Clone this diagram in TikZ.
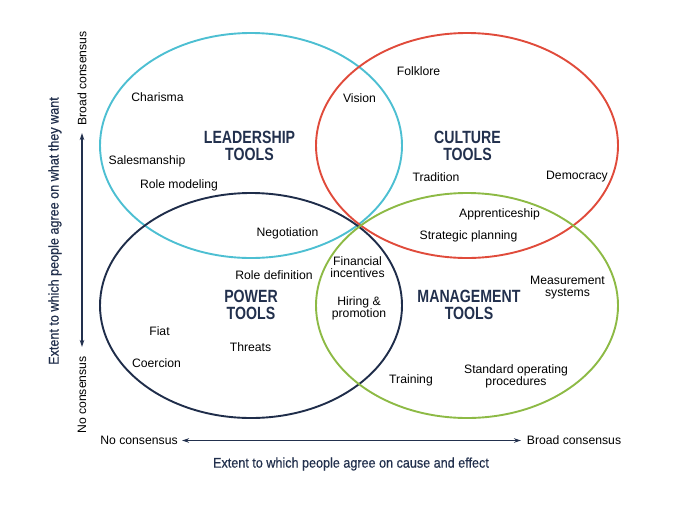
\documentclass[tikz,border=0pt]{standalone}
\usepackage{fontspec}
\setmainfont{Liberation Sans}
\newfontfamily\headfam[FakeStretch=0.8]{Liberation Sans Bold}
\newfontfamily\titlefam[FakeStretch=0.9,FakeBold=0.6]{Liberation Sans}
\usetikzlibrary{shapes.geometric,arrows.meta}
\definecolor{navy}{HTML}{22304D}
\definecolor{cyanring}{HTML}{4DBFD2}
\definecolor{redring}{HTML}{E04B3B}
\definecolor{greenring}{HTML}{8DBA45}
\definecolor{darkring}{HTML}{1F2D4A}
\tikzset{
  ring/.style={ellipse, minimum width=302pt, minimum height=225pt, inner sep=0pt, line width=1.9pt},
  lab/.style={inner sep=0pt, align=center, text=black, font=\fontsize{12.2}{11.8}\selectfont},
  head/.style={inner sep=0pt, align=center, text=navy, font=\headfam\fontsize{17.7}{16.7}\selectfont},
  axtitle/.style={inner sep=0pt, text=navy, font=\titlefam\fontsize{14}{14}\selectfont},
  axis/.style={draw=navy, line width=1.1pt, {Stealth[length=7pt,width=4.5pt]}-{Stealth[length=7pt,width=4.5pt]}}
}
\begin{document}
\begin{tikzpicture}[x=1pt,y=-1pt]
\useasboundingbox (0,0) rectangle (692,504);
% rings
\node[ring, draw=cyanring] (lead) at (251,145.5) {};
\node[ring, draw=redring] (cult) at (467,145.5) {};
\node[ring, draw=darkring] (pow) at (251,305.5) {};
\node[ring, draw=greenring] (man) at (467,305.5) {};
% headings
\node[head] (hlead) at (249.5,146) {LEADERSHIP\\TOOLS};
\node[head] (hcult) at (467.5,146) {CULTURE\\TOOLS};
\node[head] (hpow) at (251,305) {POWER\\TOOLS};
\node[head] (hman) at (469,305) {MANAGEMENT\\TOOLS};
% labels
\node[lab] (charisma) at (157.5,97) {Charisma};
\node[lab] (sales) at (147,161) {Salesmanship};
\node[lab] (rolemod) at (179,185) {Role modeling};
\node[lab] (nego) at (287.5,233) {Negotiation};
\node[lab] (vision) at (359.5,98) {Vision};
\node[lab] (folk) at (418.5,71) {Folklore};
\node[lab] (trad) at (436,177) {Tradition};
\node[lab] (demo) at (577,177) {Democracy};
\node[lab] (appr) at (499.5,214) {Apprenticeship};
\node[lab] (strat) at (468.5,236) {Strategic planning};
\node[lab] (fin) at (357.5,267.5) {Financial\\incentives};
\node[lab] (hire) at (359,308.3) {Hiring \&\\promotion};
\node[lab] (roledef) at (274,275) {Role definition};
\node[lab] (fiat) at (159.5,331) {Fiat};
\node[lab] (threats) at (250.5,347.5) {Threats};
\node[lab] (coer) at (156.5,363.5) {Coercion};
\node[lab] (meas) at (567.5,287.5) {Measurement\\systems};
\node[lab] (train) at (411,380) {Training};
\node[lab] (sop) at (516,376.7) {Standard operating\\procedures};
% axes
\coordinate (vtop) at (82,133);
\coordinate (vbot) at (82,347);
\draw[axis] (vbot) -- (vtop);
\coordinate (hleft) at (182,440.5);
\coordinate (hright) at (521,440.5);
\draw[axis] (hleft) -- (hright);
\node[lab, rotate=90] (vbroad) at (82,78.5) {Broad consensus};
\node[lab, rotate=90] (vno) at (82,395) {No consensus};
\node[lab] (hno) at (139,440) {No consensus};
\node[lab] (hbroad) at (574,440) {Broad consensus};
\node[axtitle, rotate=90] (vtitle) at (55,231) {Extent to which people agree on what they want};
\node[axtitle] (htitle) at (351,464) {Extent to which people agree on cause and effect};
\end{tikzpicture}
\end{document}
